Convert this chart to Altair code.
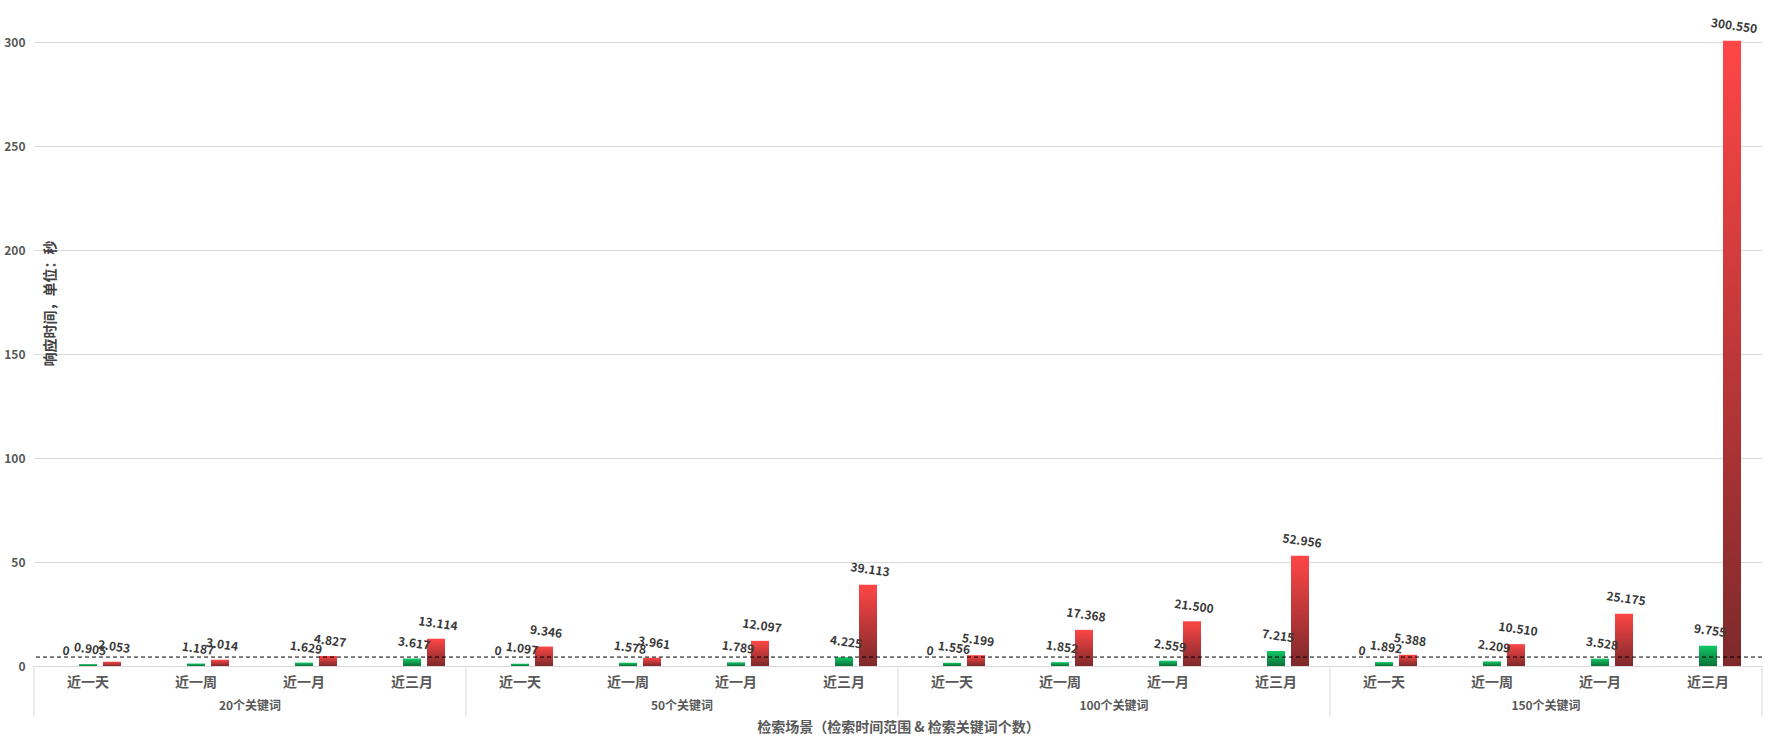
import altair as alt
import pandas as pd

FONT = "Noto Sans CJK SC"

groups = ["20个关键词", "50个关键词", "100个关键词", "150个关键词"]
periods = ["近一天", "近一周", "近一月", "近三月"]
series_names = ["系列1", "系列2", "系列3"]

s1 = [0, None, None, None, 0, None, None, None, 0, None, None, None, 0, None, None, None]
s2 = [0.905, 1.187, 1.629, 3.617, 1.097, 1.578, 1.789, 4.225,
      1.556, 1.852, 2.559, 7.215, 1.892, 2.209, 3.528, 9.755]
s3 = [2.053, 3.014, 4.827, 13.114, 9.346, 3.961, 12.097, 39.113,
      5.199, 17.368, 21.500, 52.956, 5.388, 10.510, 25.175, 300.550]
threshold = [4.3]
y_ticks = [0, 50, 100, 150, 200, 250, 300]

keys = [g + "|" + p for g in groups for p in periods]

rows = []
for name, vals in zip(series_names, [s1, s2, s3]):
    for k, v in zip(keys, vals):
        if v is not None:
            rows.append({"key": k, "series": name, "value": v})
df = pd.DataFrame(rows)

W, H = 1728, 624

x_scale = alt.Scale(domain=keys, paddingInner=0, paddingOuter=0)
xo_scale = alt.Scale(domain=series_names, paddingInner=0.25, paddingOuter=0.875)
y_scale = alt.Scale(domain=[0, 300], nice=False)

x_axis = alt.Axis(
    labelExpr="split(datum.value, '|')[1]",
    ticks=False, domainColor="#d9d9d9", labelPadding=9,
    labelFontSize=14, labelFontWeight="bold", labelColor="#595959", labelFont=FONT,
    labelAngle=0,
    title="检索场景（检索时间范围 & 检索关键词个数）",
    titleFont=FONT, titleFontSize=14, titleFontWeight="bold", titleColor="#595959",
    titleY=61, titleBaseline="middle",
)
y_axis = alt.Axis(
    values=y_ticks, ticks=False, domain=False, gridColor="#d9d9d9",
    labelPadding=9, labelFontSize=12, labelFontWeight="bold", labelColor="#595959", labelFont=FONT,
    title="响应时间，单位：秒", titleFont=FONT, titleFontSize=14, titleFontWeight="bold",
    titleColor="#404040", titleX=16, titleY=261, titleAngle=-90,
    titleAlign="center", titleBaseline="middle",
)

red = alt.Gradient(gradient="linear", x1=0, x2=0, y1=0, y2=1,
                   stops=[alt.GradientStop(color="#ff4646", offset=0),
                          alt.GradientStop(color="#7d292b", offset=1)])
green = alt.Gradient(gradient="linear", x1=0, x2=0, y1=0, y2=1,
                     stops=[alt.GradientStop(color="#12c865", offset=0),
                            alt.GradientStop(color="#0b7038", offset=1)])

base = alt.Chart(df)

enc = dict(
    x=alt.X("key:N", scale=x_scale, axis=x_axis),
    xOffset=alt.XOffset("series:N", scale=xo_scale),
    y=alt.Y("value:Q", scale=y_scale, axis=y_axis),
)

green_bars = base.transform_filter(alt.datum.series == series_names[1]).mark_bar(color=green).encode(**enc)
red_bars = base.transform_filter(alt.datum.series == series_names[2]).mark_bar(color=red).encode(**enc)

labels = base.transform_calculate(
    label="datum.value == 0 ? '0' : format(datum.value, '.3f')"
).mark_text(angle=8, dy=-15, fontSize=12, fontWeight="bold", font=FONT,
            color="#3a3a3a", align="center", baseline="middle").encode(
    x=alt.X("key:N", scale=x_scale, axis=x_axis),
    xOffset=alt.XOffset("series:N", scale=xo_scale),
    y=alt.Y("value:Q", scale=y_scale, axis=y_axis),
    text="label:N",
)

thr = alt.Chart(pd.DataFrame({"v": threshold})).mark_rule(
    color="black", strokeDash=[4, 3], strokeWidth=1
).encode(y=alt.Y("v:Q", scale=y_scale, axis=y_axis))

group_df = pd.DataFrame({"group": groups, "key": [g + "|" + periods[1] for g in groups]})
group_labels = alt.Chart(group_df).mark_text(
    fontSize=12, fontWeight="bold", font=FONT, color="#595959", baseline="middle", align="center"
).encode(
    x=alt.X("key:N", scale=x_scale, axis=x_axis, bandPosition=1),
    y=alt.value(H + 40),
    text="group:N",
)

sep_df = pd.DataFrame({"key": [g + "|" + periods[0] for g in groups]})
sep_start = alt.Chart(sep_df).mark_rule(color="#d9d9d9", strokeWidth=1).encode(
    x=alt.X("key:N", scale=x_scale, axis=x_axis, bandPosition=0),
    y=alt.value(H), y2=alt.value(H + 51),
)
end_df = pd.DataFrame({"key": [keys[-1]]})
sep_end = alt.Chart(end_df).mark_rule(color="#d9d9d9", strokeWidth=1).encode(
    x=alt.X("key:N", scale=x_scale, axis=x_axis, bandPosition=1),
    y=alt.value(H), y2=alt.value(H + 51),
)

chart = alt.layer(
    green_bars, red_bars, thr, labels, group_labels, sep_start, sep_end
).properties(
    width=W, height=H,
    padding={"left": 34, "top": 42, "right": 9, "bottom": 71},
    autosize=alt.AutoSizeParams(type="none"),
    background="white",
).configure_view(stroke=None)

chart.save("out.html", embed_options={"renderer": "svg", "actions": False})
